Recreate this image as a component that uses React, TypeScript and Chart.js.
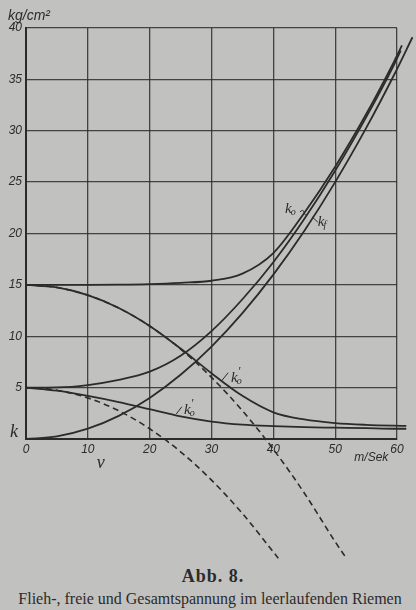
import React, { useEffect, useRef } from "react";
import { Chart, registerables } from "chart.js";

Chart.register(...registerables);

// speeds v in m/Sek
const vGrid = [0, 5, 10, 15, 20, 25, 30, 35, 40, 45, 50, 55, 59.5];

// centrifugal stress k_f
const kfSpeeds = [...vGrid, 62.5];
const kfValues = [0, 0.25, 1.0, 2.25, 4.0, 6.25, 9.0, 12.25, 16.0, 20.25, 25.0, 30.25, 35.4, 39.1];

// total stress k_0, starting at 15
const k0HighSpeeds = [...vGrid, 60.8];
const k0HighValues = [15, 15, 15, 15.02, 15.08, 15.2, 15.4, 16.1, 18.1, 22.0, 26.5, 31.6, 36.7, 38.3];

// total stress k_0, starting at 5
const k0LowSpeeds = [...vGrid, 60.6];
const k0LowValues = [5, 5.02, 5.25, 5.75, 6.55, 8.1, 10.5, 13.6, 17.2, 21.4, 26.1, 31.3, 36.4, 37.8];

// free stress k_0', starting at 15
const freeHighSpeeds = [...vGrid, 61.5];
const freeHighValues = [15, 14.75, 14.0, 12.75, 11.0, 8.8, 6.4, 4.2, 2.6, 1.9, 1.55, 1.38, 1.3, 1.28];

// free stress k_0', starting at 5
const freeLowSpeeds = [...vGrid, 61.5];
const freeLowValues = [5, 4.7, 4.2, 3.6, 2.9, 2.2, 1.7, 1.4, 1.25, 1.15, 1.1, 1.05, 1.0, 1.0];

// dashed: initial stress minus centrifugal stress
const dashHighSpeeds = [0, 5, 10, 15, 20, 25, 30, 35, 40, 45, 50, 51.8];
const dashHighValues = [15, 14.75, 14, 12.75, 11, 8.75, 6, 2.75, -1, -5.25, -10, -11.6];
const dashLowSpeeds = [0, 5, 10, 15, 20, 25, 30, 35, 40, 40.8];
const dashLowValues = [5, 4.75, 4, 2.75, 1, -1.25, -4, -7.25, -11, -11.6];

const xTicks = [0, 10, 20, 30, 40, 50, 60];
const yTicks = [0, 5, 10, 15, 20, 25, 30, 35, 40];

const INK = "#2b2b2b";
const GRID = "rgba(45,45,45,0.85)";
const BG = "#c1c1bf";

const pts = (xs: number[], ys: number[]) => xs.map((x, i) => ({ x, y: ys[i] }));

function kLabel(ctx: CanvasRenderingContext2D, px: number, py: number, sub: string, prime: boolean) {
  ctx.font = 'italic 15px "Liberation Serif"';
  ctx.textAlign = "left";
  ctx.textBaseline = "alphabetic";
  ctx.fillText("k", px, py);
  const w = ctx.measureText("k").width;
  ctx.font = 'italic 10px "Liberation Serif"';
  ctx.fillText(sub, px + w - 1, py + 2);
  if (prime) {
    ctx.font = 'italic 12px "Liberation Serif"';
    ctx.fillText("'", px + w, py - 7);
  }
}

const annotations = {
  id: "annotations",
  afterDraw(chart: any) {
    const { ctx, chartArea } = chart;
    const x = chart.scales.x;
    const y = chart.scales.y;
    const P = (v: number, k: number) => [x.getPixelForValue(v), y.getPixelForValue(k)];
    ctx.save();
    ctx.fillStyle = INK;
    ctx.strokeStyle = INK;

    ctx.font = 'italic 14px "Liberation Sans"';
    ctx.textAlign = "left";
    ctx.textBaseline = "alphabetic";
    ctx.fillText("kg/cm²", 8, chartArea.top - 8);

    ctx.font = 'italic 18px "Liberation Serif"';
    ctx.textAlign = "center";
    ctx.fillText("k", chartArea.left - 12, y.getPixelForValue(0) - 2);
    ctx.fillText("v", x.getPixelForValue(12.1), y.getPixelForValue(0) + 29);

    ctx.font = 'italic 12px "Liberation Sans"';
    ctx.textAlign = "right";
    ctx.fillText("m/Sek", x.getPixelForValue(58.6), y.getPixelForValue(0) + 22);

    // curve labels
    let p = P(41.9, 22.0);
    kLabel(ctx, p[0], p[1], "o", false);
    p = P(47.2, 20.7);
    kLabel(ctx, p[0], p[1], "f", false);
    p = P(33.15, 5.55);
    kLabel(ctx, p[0], p[1], "o", true);
    p = P(25.55, 2.43);
    kLabel(ctx, p[0], p[1], "o", true);

    ctx.lineWidth = 1;
    const seg = (a: number[], b: number[]) => {
      ctx.beginPath();
      ctx.moveTo(a[0], a[1]);
      ctx.lineTo(b[0], b[1]);
      ctx.stroke();
    };
    // tilde leader for k_o
    const t0 = P(44.3, 22.1);
    const t1 = P(45.6, 21.9);
    ctx.beginPath();
    ctx.moveTo(t0[0], t0[1]);
    ctx.quadraticCurveTo((t0[0] + t1[0]) / 2 - 1, t0[1] - 3, (t0[0] + t1[0]) / 2, t0[1]);
    ctx.quadraticCurveTo((t0[0] + t1[0]) / 2 + 1, t1[1] + 3, t1[0], t1[1]);
    ctx.stroke();
    seg(P(46.3, 21.6), P(47.2, 21.1));
    seg(P(32.7, 6.45), P(31.65, 5.67));
    seg(P(25.2, 3.14), P(24.3, 2.43));
    ctx.restore();
  },
};

export default function App() {
  const ref = useRef<HTMLCanvasElement | null>(null);

  useEffect(() => {
    if (!ref.current) return;
    const solid = (data: { x: number; y: number }[]) => ({
      data,
      borderColor: INK,
      borderWidth: 1.8,
      pointRadius: 0,
      fill: false,
      cubicInterpolationMode: "monotone" as const,
      clip: false as const,
      order: 1,
    });
    const dashed = (data: { x: number; y: number }[]) => ({
      data,
      borderColor: INK,
      borderWidth: 1.6,
      borderDash: [6, 4],
      pointRadius: 0,
      fill: false,
      cubicInterpolationMode: "monotone" as const,
      clip: false as const,
      order: 2,
    });
    const tickFont = { family: '"Liberation Sans"', size: 12, style: "italic" as const };
    const chart = new Chart(ref.current, {
      type: "line",
      data: {
        datasets: [
          { label: "k_f", ...solid(pts(kfSpeeds, kfValues)) },
          { label: "k_0 (15)", ...solid(pts(k0HighSpeeds, k0HighValues)) },
          { label: "k_0 (5)", ...solid(pts(k0LowSpeeds, k0LowValues)) },
          { label: "k_0' (15)", ...solid(pts(freeHighSpeeds, freeHighValues)) },
          { label: "k_0' (5)", ...solid(pts(freeLowSpeeds, freeLowValues)) },
          { label: "15 - k_f", ...dashed(pts(dashHighSpeeds, dashHighValues)) },
          { label: "5 - k_f", ...dashed(pts(dashLowSpeeds, dashLowValues)) },
        ],
      },
      options: {
        responsive: false,
        animation: false,
        devicePixelRatio: 1,
        layout: { padding: { top: 28, right: 19, bottom: 106, left: 0 } },
        plugins: { legend: { display: false }, tooltip: { enabled: false } },
        scales: {
          x: {
            type: "linear",
            min: 0,
            max: 60,
            afterBuildTicks: (s: any) => {
              s.ticks = xTicks.map((v) => ({ value: v }));
            },
            ticks: { padding: 3, font: tickFont, color: INK, maxRotation: 0, autoSkip: false },
            grid: { color: GRID, lineWidth: 1.3, drawTicks: false },
            border: { color: INK, width: 2 },
            afterFit: (s: any) => {
              s.height = 20;
            },
          },
          y: {
            type: "linear",
            min: 0,
            max: 40,
            afterBuildTicks: (s: any) => {
              s.ticks = yTicks.map((v) => ({ value: v }));
            },
            ticks: {
              padding: 4,
              font: tickFont,
              color: INK,
              callback: (v: any) => (v === 0 ? "" : String(v)),
            },
            grid: { color: GRID, lineWidth: 1.3, drawTicks: false },
            border: { color: INK, width: 2 },
            afterFit: (s: any) => {
              s.width = 26;
            },
          },
        },
      },
      plugins: [annotations],
    });
    return () => chart.destroy();
  }, []);

  return (
    <div
      style={{
        position: "absolute",
        left: 0,
        top: 0,
        width: 416,
        height: 610,
        background: BG,
        overflow: "hidden",
      }}
    >
      <canvas ref={ref} width={416} height={565} style={{ display: "block", width: 416, height: 565 }} />
      <div
        style={{
          position: "absolute",
          left: 5,
          top: 566,
          width: 416,
          textAlign: "center",
          fontFamily: '"Liberation Serif", serif',
          fontWeight: "bold",
          fontSize: 18,
          letterSpacing: 1,
          color: INK,
          lineHeight: "20px",
        }}
      >
        Abb. 8.
      </div>
      <div
        style={{
          position: "absolute",
          left: 2,
          top: 590,
          width: 416,
          textAlign: "center",
          fontFamily: '"Liberation Serif", serif',
          fontSize: 16,
          color: INK,
          lineHeight: "18px",
          whiteSpace: "nowrap",
        }}
      >
        Flieh-, freie und Gesamtspannung im leerlaufenden Riemen
      </div>
    </div>
  );
}
